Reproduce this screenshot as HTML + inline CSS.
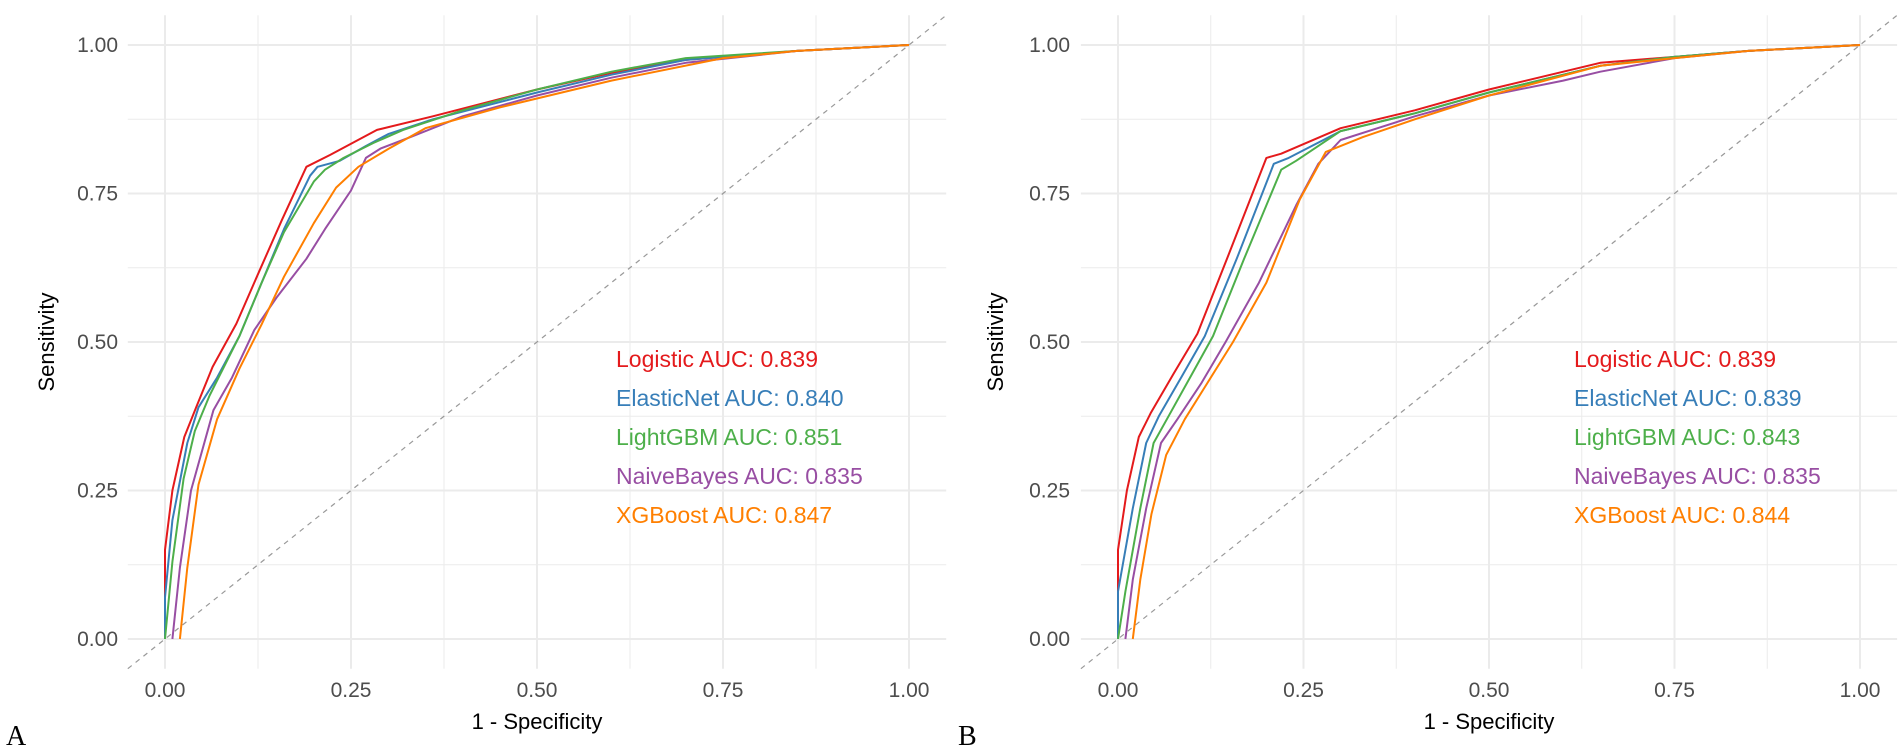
<!DOCTYPE html>
<html><head><meta charset="utf-8"><style>
body{margin:0;background:#fff;}
svg{display:block;font-family:"Liberation Sans",sans-serif;}
</style></head><body>
<svg id="chart" width="1902" height="750"></svg>
<script>
const xTicks=[0,0.25,0.5,0.75,1];
const yTicks=[0,0.25,0.5,0.75,1];
const tickLabels=["0.00","0.25","0.50","0.75","1.00"];
const models=["Logistic","ElasticNet","LightGBM","NaiveBayes","XGBoost"];
const colors=["#e41a1c","#377eb8","#4daf4a","#984ea3","#ff7f00"];
const aucA=["0.839","0.840","0.851","0.835","0.847"];
const aucB=["0.839","0.839","0.843","0.835","0.844"];
const fprA_log=[0,0,0.01,0.026,0.042,0.064,0.096,0.127,0.157,0.19,0.222,0.285,0.36,0.5,0.6,0.7,0.75,0.85,1];
const tprA_log=[0,0.15,0.25,0.34,0.39,0.458,0.531,0.62,0.705,0.795,0.815,0.857,0.88,0.925,0.953,0.975,0.98,0.99,1];
const fprA_en=[0,0,0.01,0.03,0.045,0.07,0.1,0.13,0.16,0.195,0.205,0.235,0.27,0.3,0.36,0.5,0.6,0.7,0.85,1];
const tprA_en=[0,0.07,0.2,0.33,0.39,0.44,0.51,0.6,0.69,0.78,0.795,0.805,0.83,0.85,0.875,0.92,0.95,0.975,0.99,1];
const fprA_lgb=[0,0.01,0.025,0.04,0.06,0.1,0.13,0.16,0.2,0.215,0.24,0.28,0.32,0.4,0.5,0.6,0.7,0.85,1];
const tprA_lgb=[0,0.13,0.27,0.35,0.41,0.51,0.6,0.685,0.77,0.79,0.81,0.835,0.857,0.89,0.925,0.955,0.978,0.99,1];
const fprA_nb=[0.01,0.02,0.035,0.065,0.09,0.12,0.15,0.19,0.215,0.25,0.27,0.29,0.33,0.4,0.5,0.6,0.7,0.85,1];
const tprA_nb=[0,0.12,0.25,0.385,0.44,0.52,0.575,0.64,0.69,0.755,0.81,0.826,0.845,0.88,0.915,0.945,0.97,0.99,1];
const fprA_xgb=[0.02,0.03,0.045,0.07,0.1,0.13,0.16,0.2,0.23,0.26,0.3,0.35,0.45,0.6,0.75,0.85,1];
const tprA_xgb=[0,0.12,0.26,0.37,0.455,0.53,0.61,0.7,0.76,0.795,0.825,0.86,0.895,0.94,0.978,0.99,1];
const fprB_log=[0,0,0.012,0.028,0.044,0.075,0.107,0.15,0.2,0.22,0.3,0.4,0.5,0.65,0.75,0.85,1];
const tprB_log=[0,0.15,0.25,0.34,0.38,0.447,0.514,0.65,0.81,0.817,0.86,0.89,0.925,0.97,0.98,0.99,1];
const fprB_en=[0,0,0.02,0.038,0.055,0.085,0.117,0.16,0.21,0.23,0.3,0.4,0.5,0.65,0.75,0.85,1];
const tprB_en=[0,0.08,0.22,0.33,0.375,0.44,0.51,0.64,0.8,0.81,0.855,0.885,0.92,0.965,0.98,0.99,1];
const fprB_lgb=[0,0.01,0.03,0.048,0.068,0.097,0.128,0.17,0.22,0.24,0.3,0.4,0.5,0.65,0.75,0.85,1];
const tprB_lgb=[0,0.08,0.22,0.33,0.375,0.44,0.51,0.64,0.79,0.805,0.855,0.885,0.92,0.965,0.98,0.99,1];
const fprB_nb=[0.01,0.02,0.038,0.058,0.08,0.112,0.145,0.19,0.24,0.27,0.3,0.4,0.5,0.6,0.65,0.75,0.85,1];
const tprB_nb=[0,0.1,0.22,0.33,0.37,0.43,0.5,0.6,0.73,0.8,0.84,0.88,0.915,0.94,0.955,0.978,0.99,1];
const fprB_xgb=[0.02,0.03,0.045,0.065,0.09,0.12,0.155,0.2,0.245,0.28,0.33,0.4,0.5,0.65,0.75,0.85,1];
const tprB_xgb=[0,0.1,0.21,0.31,0.37,0.43,0.5,0.6,0.74,0.82,0.845,0.875,0.915,0.965,0.978,0.99,1];

const NS="http://www.w3.org/2000/svg";
const svg=document.getElementById("chart");
function mk(tag,attrs,parent){const e=document.createElementNS(NS,tag);for(const k in attrs)e.setAttribute(k,attrs[k]);(parent||svg).appendChild(e);return e;}

function panel(id,x0,w,yTop,yBot,labelX,aucs,series,tickRight,sensX,legX,letter){
  const g=mk("g",{});
  
  
  const sx=v=>x0+v*w;
  const h=yBot-yTop;
  const sy=v=>yBot-v*h;
  for(let i=0;i<=8;i++){
    const v=i/8;const major=i%2===0;
    const lv=mk("line",{x1:sx(v),x2:sx(v),y1:sy(1.05),y2:sy(-0.05),stroke:"#ebebeb","stroke-width":major?2:1},g);
    
    
    const lh=mk("line",{y1:sy(v),y2:sy(v),x1:sx(-0.05),x2:sx(1.05),stroke:"#ebebeb","stroke-width":major?2:1},g);
    
    
  }
  const d=mk("line",{x1:sx(-0.05),y1:sy(-0.05),x2:sx(1.05),y2:sy(1.05),stroke:"#999","stroke-width":1.2,"stroke-dasharray":"5,5"},g);
  
  
  xTicks.forEach((v,i)=>{
    const t=mk("text",{x:sx(v),y:yBot+58,"text-anchor":"middle","font-size":21,fill:"#4d4d4d"},g);
    t.textContent=tickLabels[i];
    
    
  });
  yTicks.forEach((v,i)=>{
    const t=mk("text",{x:tickRight,y:sy(v)+7,"text-anchor":"end","font-size":21,fill:"#4d4d4d"},g);
    t.textContent=tickLabels[i];
    
    
  });
  const xt=mk("text",{x:sx(0.5),y:729,"text-anchor":"middle","font-size":22,fill:"#000"},g);
  xt.textContent="1 - Specificity";
  
  
  const yt=mk("text",{x:sensX,y:sy(0.5),"text-anchor":"middle","font-size":22,fill:"#000",transform:`rotate(-90 ${sensX} ${sy(0.5)})`},g);
  yt.textContent="Sensitivity";
  
  
  series.forEach((s,i)=>{
    const pts=s[0].map((f,j)=>sx(f).toFixed(1)+","+sy(s[1][j]).toFixed(1)).join(" ");
    const p=mk("polyline",{points:pts,fill:"none",stroke:colors[i],"stroke-width":2,"stroke-linejoin":"round"},g);
    
    
  });
  models.forEach((m,i)=>{
    const t=mk("text",{x:legX,y:367+i*39,"font-size":23,fill:colors[i]},g);
    t.textContent=m+" AUC: "+aucs[i];
    
    
  });
  const L=mk("text",{x:labelX,y:745,"font-size":28,fill:"#000","font-family":"Liberation Serif, serif"},g);
  L.textContent=letter;
  
  
}
panel("a",165,744,45,639,6,aucA,[[fprA_log,tprA_log],[fprA_en,tprA_en],[fprA_lgb,tprA_lgb],[fprA_nb,tprA_nb],[fprA_xgb,tprA_xgb]],118,54,616,"A");
panel("b",1118,742,45,639,958,aucB,[[fprB_log,tprB_log],[fprB_en,tprB_en],[fprB_lgb,tprB_lgb],[fprB_nb,tprB_nb],[fprB_xgb,tprB_xgb]],1070,1003,1574,"B");
</script>
</body></html>
